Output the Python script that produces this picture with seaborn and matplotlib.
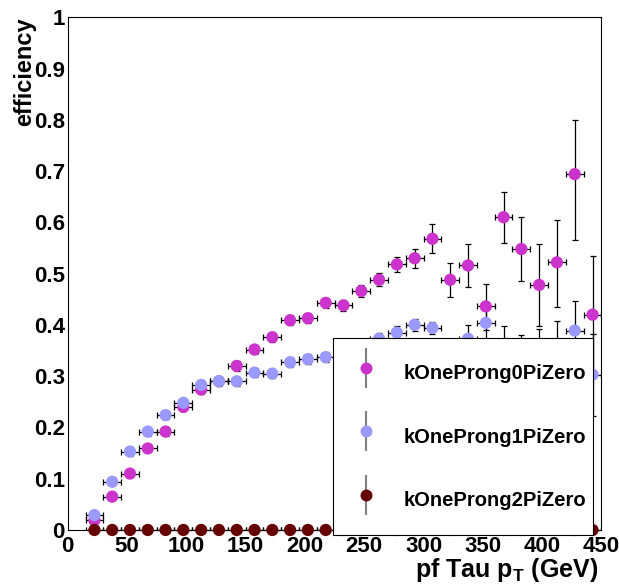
import numpy as np
import pandas as pd
import matplotlib
matplotlib.use('Agg')
import matplotlib.pyplot as plt
import seaborn as sns
from matplotlib.container import ErrorbarContainer
from matplotlib.legend_handler import HandlerErrorbar
from matplotlib.lines import Line2D
from matplotlib.collections import LineCollection
from matplotlib.ticker import MultipleLocator, FormatStrFormatter

# bin centres of pf tau pT (GeV), bins are 15 GeV wide
pt = [22.5, 37.5, 52.5, 67.5, 82.5, 97.5, 112.5, 127.5, 142.5, 157.5,
      172.5, 187.5, 202.5, 217.5, 232.5, 247.5, 262.5, 277.5, 292.5, 307.5,
      322.5, 337.5, 352.5, 367.5, 382.5, 397.5, 412.5, 427.5, 442.5]
pt_halfwidth = 7.5

# kOneProng0PiZero
eff0 = [0.019, 0.065, 0.110, 0.159, 0.192, 0.240, 0.274, 0.290, 0.320, 0.352,
        0.376, 0.409, 0.413, 0.443, 0.438, 0.466, 0.488, 0.518, 0.530, 0.568,
        0.488, 0.516, 0.436, 0.610, 0.548, 0.478, 0.522, 0.694, 0.420]
err0_lo = [0.005, 0.006, 0.007, 0.007, 0.008, 0.008, 0.008, 0.008, 0.009, 0.009,
           0.009, 0.010, 0.010, 0.010, 0.011, 0.012, 0.013, 0.014, 0.019, 0.028,
           0.033, 0.042, 0.045, 0.050, 0.062, 0.081, 0.087, 0.128, 0.120]
err0_hi = [0.005, 0.006, 0.007, 0.007, 0.008, 0.008, 0.008, 0.008, 0.009, 0.009,
           0.009, 0.010, 0.010, 0.010, 0.011, 0.012, 0.013, 0.014, 0.019, 0.028,
           0.033, 0.042, 0.043, 0.050, 0.062, 0.079, 0.083, 0.106, 0.115]

# kOneProng1PiZero
eff1 = [0.029, 0.094, 0.153, 0.192, 0.224, 0.248, 0.283, 0.290, 0.290, 0.307,
        0.305, 0.327, 0.333, 0.337, 0.345, 0.355, 0.373, 0.385, 0.400, 0.394,
        0.345, 0.373, 0.404, 0.350, 0.330, 0.340, 0.350, 0.389, 0.303]
err1 = [0.006, 0.007, 0.008, 0.008, 0.008, 0.008, 0.009, 0.009, 0.009, 0.009,
        0.009, 0.010, 0.010, 0.010, 0.011, 0.011, 0.012, 0.012, 0.011, 0.012,
        0.025, 0.027, 0.035, 0.048, 0.051, 0.052, 0.058, 0.057, 0.080]

# kOneProng2PiZero
eff2 = [0.0] * len(pt)
err2 = [0.0] * len(pt)

names = ['kOneProng0PiZero', 'kOneProng1PiZero', 'kOneProng2PiZero']
colors = ['#cc33cc', '#9999ff', '#660000']

sns.set_theme(style='white')
plt.rcParams['font.family'] = ['Liberation Sans', 'DejaVu Sans']
plt.rcParams['font.weight'] = 'bold'
plt.rcParams['mathtext.fontset'] = 'custom'
plt.rcParams['mathtext.rm'] = 'Liberation Sans:bold'
plt.rcParams['mathtext.bf'] = 'Liberation Sans:bold'
for key in ['text.color', 'axes.labelcolor', 'xtick.color', 'ytick.color']:
    plt.rcParams[key] = 'black'

df = pd.DataFrame({
    'pt': pt * 3,
    'eff': eff0 + eff1 + eff2,
    'decay': [names[0]] * len(pt) + [names[1]] * len(pt) + [names[2]] * len(pt),
})

fig = plt.figure(figsize=(6.19, 5.86), dpi=100)
ax = fig.add_axes([0.1094, 0.0956, 0.8622, 0.8749])

# error bars first, markers on top
yerrs = [[err0_lo, err0_hi], [err1, err1], [err2, err2]]
for name, yerr in zip(names, yerrs):
    sub = df[df['decay'] == name]
    ax.errorbar(sub['pt'], sub['eff'], xerr=pt_halfwidth, yerr=yerr, fmt='none',
                ecolor='black', elinewidth=0.9, capsize=2.2, capthick=0.9, zorder=2)

sns.scatterplot(data=df, x='pt', y='eff', hue='decay', palette=colors,
                s=78, linewidth=0, legend=False, ax=ax, zorder=3)
for c in ax.collections:
    c.set_clip_on(False)

ax.set_xlim(0, 450)
ax.set_ylim(0, 1)
ax.xaxis.set_major_locator(MultipleLocator(50))
ax.xaxis.set_minor_locator(MultipleLocator(10))
ax.yaxis.set_major_locator(MultipleLocator(0.1))
ax.yaxis.set_minor_locator(MultipleLocator(0.02))
ax.yaxis.set_major_formatter(FormatStrFormatter('%g'))
ax.tick_params(axis='both', which='both', direction='in', top=False, right=False,
               labelsize=16, width=0.8, color='black', labelcolor='black')
ax.tick_params(axis='both', which='major', length=12)
ax.tick_params(axis='both', which='minor', length=6)
ax.tick_params(axis='y', pad=2)
ax.tick_params(axis='x', pad=4)
for lab in ax.get_xticklabels() + ax.get_yticklabels():
    lab.set_fontweight('bold')
for sp in ax.spines.values():
    sp.set_color('black')
    sp.set_linewidth(0.8)

ax.set_xlabel(r'pf Tau p$_{\mathrm{T}}$ (GeV)', fontsize=18, fontweight='bold', ha='right')
ax.xaxis.set_label_coords(0.995, -0.05)
ax.xaxis.label.set_va('top')
ax.set_ylabel('efficiency', fontsize=17, fontweight='bold', ha='right')
ax.yaxis.set_label_coords(-0.06, 1.0)

# legend: marker with a grey vertical bar, like the ROOT TLegend
handles = []
for color in colors:
    mline = Line2D([], [], marker='o', ls='none', color=color, markersize=8.6,
                   markeredgewidth=0)
    bars = LineCollection([], colors='gray', linewidths=1.5)
    handles.append(ErrorbarContainer((mline, (), (bars,)), has_xerr=False, has_yerr=True))
leg = ax.legend(handles, names, loc='upper left', bbox_to_anchor=(0.497, 0.3745, 0.487, 0.0),
                mode='expand', prop={'weight': 'bold', 'size': 14.5},
                frameon=True, fancybox=False, framealpha=1, edgecolor='black',
                borderpad=0.9, handlelength=1.5, handleheight=2.2, labelspacing=1.48,
                handletextpad=1.1, borderaxespad=0,
                handler_map={ErrorbarContainer: HandlerErrorbar(yerr_size=1.0)})
leg.get_frame().set_linewidth(0.8)
leg.set_zorder(10)

fig.savefig('out.png', dpi=100)
